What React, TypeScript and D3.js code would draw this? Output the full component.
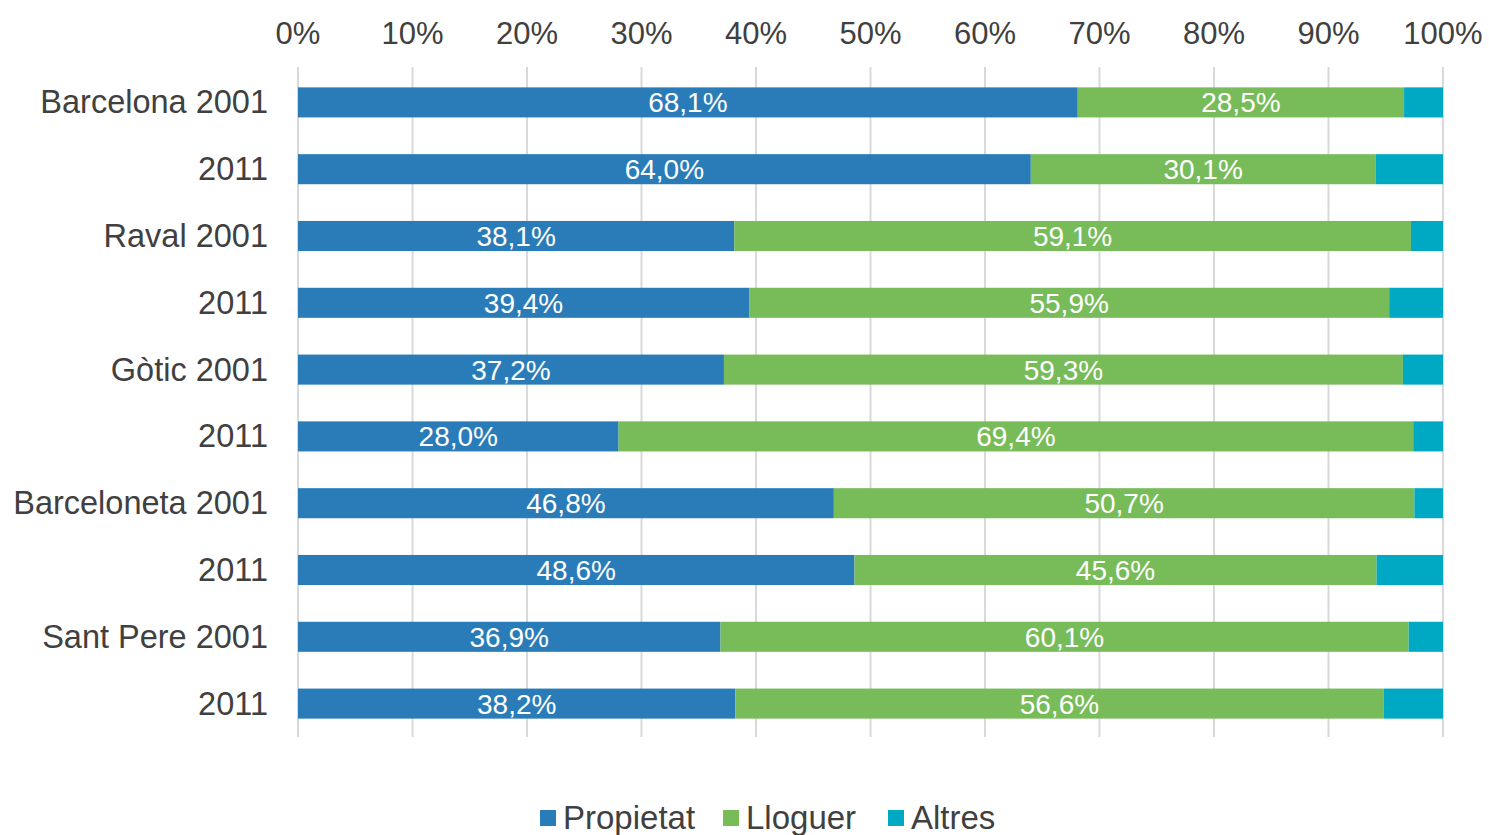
import React, { useEffect } from "react";
import { scaleLinear, scaleBand, stack } from "d3";

const categories = [
  "Barcelona 2001", "2011", "Raval 2001", "2011", "Gòtic 2001",
  "2011", "Barceloneta 2001", "2011", "Sant Pere 2001", "2011",
];
const propietat = [68.1, 64.0, 38.1, 39.4, 37.2, 28.0, 46.8, 48.6, 36.9, 38.2];
const lloguer = [28.5, 30.1, 59.1, 55.9, 59.3, 69.4, 50.7, 45.6, 60.1, 56.6];
const altres = [3.4, 5.9, 2.8, 4.7, 3.5, 2.6, 2.5, 5.8, 3.0, 5.2];
const keys = ["Propietat", "Lloguer", "Altres"];
const xTicks = [0, 10, 20, 30, 40, 50, 60, 70, 80, 90, 100];

const colors: Record<string, string> = {
  Propietat: "#2a7cb9",
  Lloguer: "#77bc59",
  Altres: "#00a9c3",
};

const W = 1489;
const H = 835;

export default function App() {
  useEffect(() => {
    document.body.style.margin = "0";
  }, []);

  const rows = categories.map((c, i) => ({
    idx: i,
    Propietat: propietat[i],
    Lloguer: lloguer[i],
    Altres: altres[i],
  }));
  const layers = stack<any>().keys(keys)(rows);

  const x = scaleLinear().domain([0, 100]).range([298, 1443]);
  const y = scaleBand<number>()
    .domain(rows.map((r) => r.idx))
    .range([69, 737])
    .paddingInner(0.55)
    .paddingOuter(0.275);

  const font = "'Liberation Sans', Arial, sans-serif";
  const fmt = (v: number) => v.toFixed(1).replace(".", ",") + "%";

  const legend = [
    { key: "Propietat", x: 540 },
    { key: "Lloguer", x: 723 },
    { key: "Altres", x: 888 },
  ];

  return (
    <svg width={W} height={H} style={{ display: "block", background: "#fff" }} fontFamily={font}>
      {/* grid */}
      {xTicks.map((t) => (
        <line key={t} x1={x(t)} x2={x(t)} y1={67} y2={737} stroke="#d9d9d9" strokeWidth={2} />
      ))}
      {xTicks.map((t) => (
        <text key={"t" + t} x={x(t)} y={44} textAnchor="middle" fontSize={31} fill="#404040">
          {t}%
        </text>
      ))}
      {/* bars */}
      {layers.map((layer) => (
        <g key={layer.key} fill={colors[layer.key]}>
          {layer.map((d: any) => (
            <rect
              key={d.data.idx}
              x={x(d[0])}
              y={y(d.data.idx)}
              width={x(d[1]) - x(d[0])}
              height={y.bandwidth()}
            />
          ))}
        </g>
      ))}
      {/* bar labels */}
      {layers
        .filter((l) => l.key !== "Altres")
        .map((layer) =>
          layer.map((d: any) => (
            <text
              key={layer.key + d.data.idx}
              x={(x(d[0]) + x(d[1])) / 2}
              y={(y(d.data.idx) as number) + y.bandwidth() / 2 + 10}
              textAnchor="middle"
              fontSize={28}
              fill="#ffffff"
            >
              {fmt(d[1] - d[0])}
            </text>
          ))
        )}
      {/* category labels */}
      {categories.map((c, i) => (
        <text
          key={"c" + i}
          x={268}
          y={(y(i) as number) + y.bandwidth() / 2 + 11}
          textAnchor="end"
          fontSize={32.5}
          fill="#404040"
        >
          {c}
        </text>
      ))}
      {/* legend */}
      {legend.map((l) => (
        <g key={l.key}>
          <rect x={l.x} y={810} width={16} height={16} fill={colors[l.key]} />
          <text x={l.x + 23} y={829} fontSize={33} fill="#404040">
            {l.key}
          </text>
        </g>
      ))}
    </svg>
  );
}
